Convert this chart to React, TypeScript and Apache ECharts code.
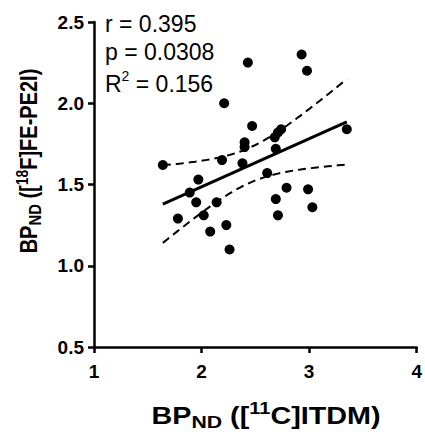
import React, { useEffect, useRef } from "react";
import * as echarts from "echarts";

// [11C]ITDM BP_ND (x) and [18F]FE-PE2I BP_ND (y)
const itdm = [
  1.64, 1.78, 1.89, 1.95, 1.97, 2.02, 2.08, 2.14, 2.19, 2.21,
  2.23, 2.26, 2.38, 2.40, 2.40, 2.43, 2.47, 2.61, 2.69, 2.71,
  2.69, 2.68, 2.71, 2.74, 2.79, 2.93, 2.98, 2.99, 3.03, 3.35,
];
const fepe2i = [
  1.62, 1.29, 1.45, 1.39, 1.53, 1.31, 1.21, 1.39, 1.65, 2.00,
  1.25, 1.10, 1.63, 1.76, 1.73, 2.25, 1.86, 1.57, 1.41, 1.31,
  1.72, 1.79, 1.82, 1.84, 1.48, 2.30, 2.20, 1.47, 1.36, 1.84,
];
const xTickLabels = ["1", "2", "3", "4"];
const yTickLabels = ["0.5", "1.0", "1.5", "2.0", "2.5"];
const statR = "r = 0.395";
const statP = "p = 0.0308";
const statR2 = "R{sup|2} = 0.156";
const xTitle = "BP{sub|ND} ([{sup|11}C]ITDM)";
const yTitle = "BP{sub|ND} ([{sup|18}F]FE-PE2I)";
const tCrit = 2.048; // t(0.975, df = 28)

function fit() {
  const n = itdm.length;
  const mx = itdm.reduce((a, b) => a + b, 0) / n;
  const my = fepe2i.reduce((a, b) => a + b, 0) / n;
  let sxx = 0, sxy = 0;
  for (let i = 0; i < n; i++) {
    sxx += (itdm[i] - mx) ** 2;
    sxy += (itdm[i] - mx) * (fepe2i[i] - my);
  }
  const b = sxy / sxx;
  const a = my - b * mx;
  let sse = 0;
  for (let i = 0; i < n; i++) sse += (fepe2i[i] - a - b * itdm[i]) ** 2;
  const s = Math.sqrt(sse / (n - 2));
  const xmin = Math.min(...itdm), xmax = Math.max(...itdm);
  const line: number[][] = [[xmin, a + b * xmin], [xmax, a + b * xmax]];
  const up: number[][] = [], lo: number[][] = [];
  const steps = 40;
  for (let k = 0; k <= steps; k++) {
    const x = xmin + ((xmax - xmin) * k) / steps;
    const yh = a + b * x;
    const h = tCrit * s * Math.sqrt(1 / n + (x - mx) ** 2 / sxx);
    up.push([x, yh + h]);
    lo.push([x, yh - h]);
  }
  return { line, up, lo };
}

const FONT = '"Liberation Sans", Arial, Helvetica, sans-serif';

export default function App() {
  const ref = useRef<HTMLDivElement>(null);
  useEffect(() => {
    if (!ref.current) return;
    const chart = echarts.init(ref.current, undefined, { renderer: "svg" });
    const { line, up, lo } = fit();
    const pts = itdm.map((x, i) => [x, fepe2i[i]]);
    const axisCommon = {
      axisLine: { show: true, onZero: false, lineStyle: { color: "#000", width: 2.5 } },
      axisTick: { show: true, length: 6, lineStyle: { color: "#000", width: 2.5 } },
      splitLine: { show: false },
    };
    const titleRich = {
      sub: { fontSize: 17, fontWeight: "bold", fontFamily: FONT, lineHeight: 17, verticalAlign: "bottom", fill: "#000" },
      sup: { fontSize: 16, fontWeight: "bold", fontFamily: FONT, lineHeight: 16, verticalAlign: "top", fill: "#000" },
    };
    chart.setOption({
      animation: false,
      backgroundColor: "#fff",
      grid: { left: 94, right: 7, top: 22, bottom: 87 },
      xAxis: {
        type: "value",
        min: 1,
        max: 4,
        interval: 1,
        ...axisCommon,
        axisLabel: {
          margin: 15,
          color: "#000",
          fontWeight: "bold",
          fontSize: 19,
          fontFamily: FONT,
          formatter: (v: number) => xTickLabels[Math.round(v) - 1] ?? "",
        },
      },
      yAxis: {
        type: "value",
        min: 0.5,
        max: 2.5,
        interval: 0.5,
        ...axisCommon,
        axisLabel: {
          margin: 10,
          color: "#000",
          fontWeight: "bold",
          fontSize: 19,
          fontFamily: FONT,
          formatter: (v: number) => yTickLabels[Math.round((v - 0.5) / 0.5)] ?? "",
        },
      },
      series: [
        {
          type: "line",
          data: up,
          showSymbol: false,
          silent: true,
          lineStyle: { color: "#000", width: 2, type: [8, 5] },
          z: 3,
        },
        {
          type: "line",
          data: lo,
          showSymbol: false,
          silent: true,
          lineStyle: { color: "#000", width: 2, type: [8, 5] },
          z: 3,
        },
        {
          type: "line",
          data: line,
          showSymbol: false,
          silent: true,
          lineStyle: { color: "#000", width: 3 },
          z: 4,
        },
        {
          type: "scatter",
          data: pts,
          symbol: "circle",
          symbolSize: 10,
          itemStyle: { color: "#000", opacity: 1 },
          z: 5,
        },
      ],
      graphic: [
        {
          type: "text",
          x: 105,
          y: 24,
          style: { text: statR, font: `23px ${FONT}`, fill: "#000", align: "left", verticalAlign: "middle", textAlign: "left", textVerticalAlign: "middle" },
        },
        {
          type: "text",
          x: 105,
          y: 52,
          style: { text: statP, font: `23px ${FONT}`, fill: "#000", align: "left", verticalAlign: "middle", textAlign: "left", textVerticalAlign: "middle" },
        },
        {
          type: "text",
          x: 105,
          y: 84,
          style: {
            text: statR2,
            font: `23px ${FONT}`,
            fill: "#000",
            lineHeight: 30,
            align: "left",
            verticalAlign: "middle",
            textAlign: "left",
            textVerticalAlign: "middle",
            rich: {
              sup: { fontSize: 14, fontFamily: FONT, lineHeight: 16, verticalAlign: "top", fill: "#000" },
            },
          },
        },
        {
          type: "text",
          x: 266,
          y: 416,
          scaleX: 1.25,
          style: {
            text: xTitle,
            font: `bold 23px ${FONT}`,
            fill: "#000",
            lineHeight: 30,
            align: "center",
            verticalAlign: "middle",
            textAlign: "center",
            textVerticalAlign: "middle",
            rich: titleRich,
          },
        },
        {
          type: "text",
          x: 29,
          y: 161,
          rotation: Math.PI / 2,
          scaleX: 0.87,
          style: {
            text: yTitle,
            font: `bold 23px ${FONT}`,
            fill: "#000",
            lineHeight: 30,
            align: "center",
            verticalAlign: "middle",
            textAlign: "center",
            textVerticalAlign: "middle",
            rich: titleRich,
          },
        },
      ],
    });
    return () => chart.dispose();
  }, []);
  return <div ref={ref} style={{ width: 425, height: 434, position: "absolute", left: 0, top: 0 }} />;
}
